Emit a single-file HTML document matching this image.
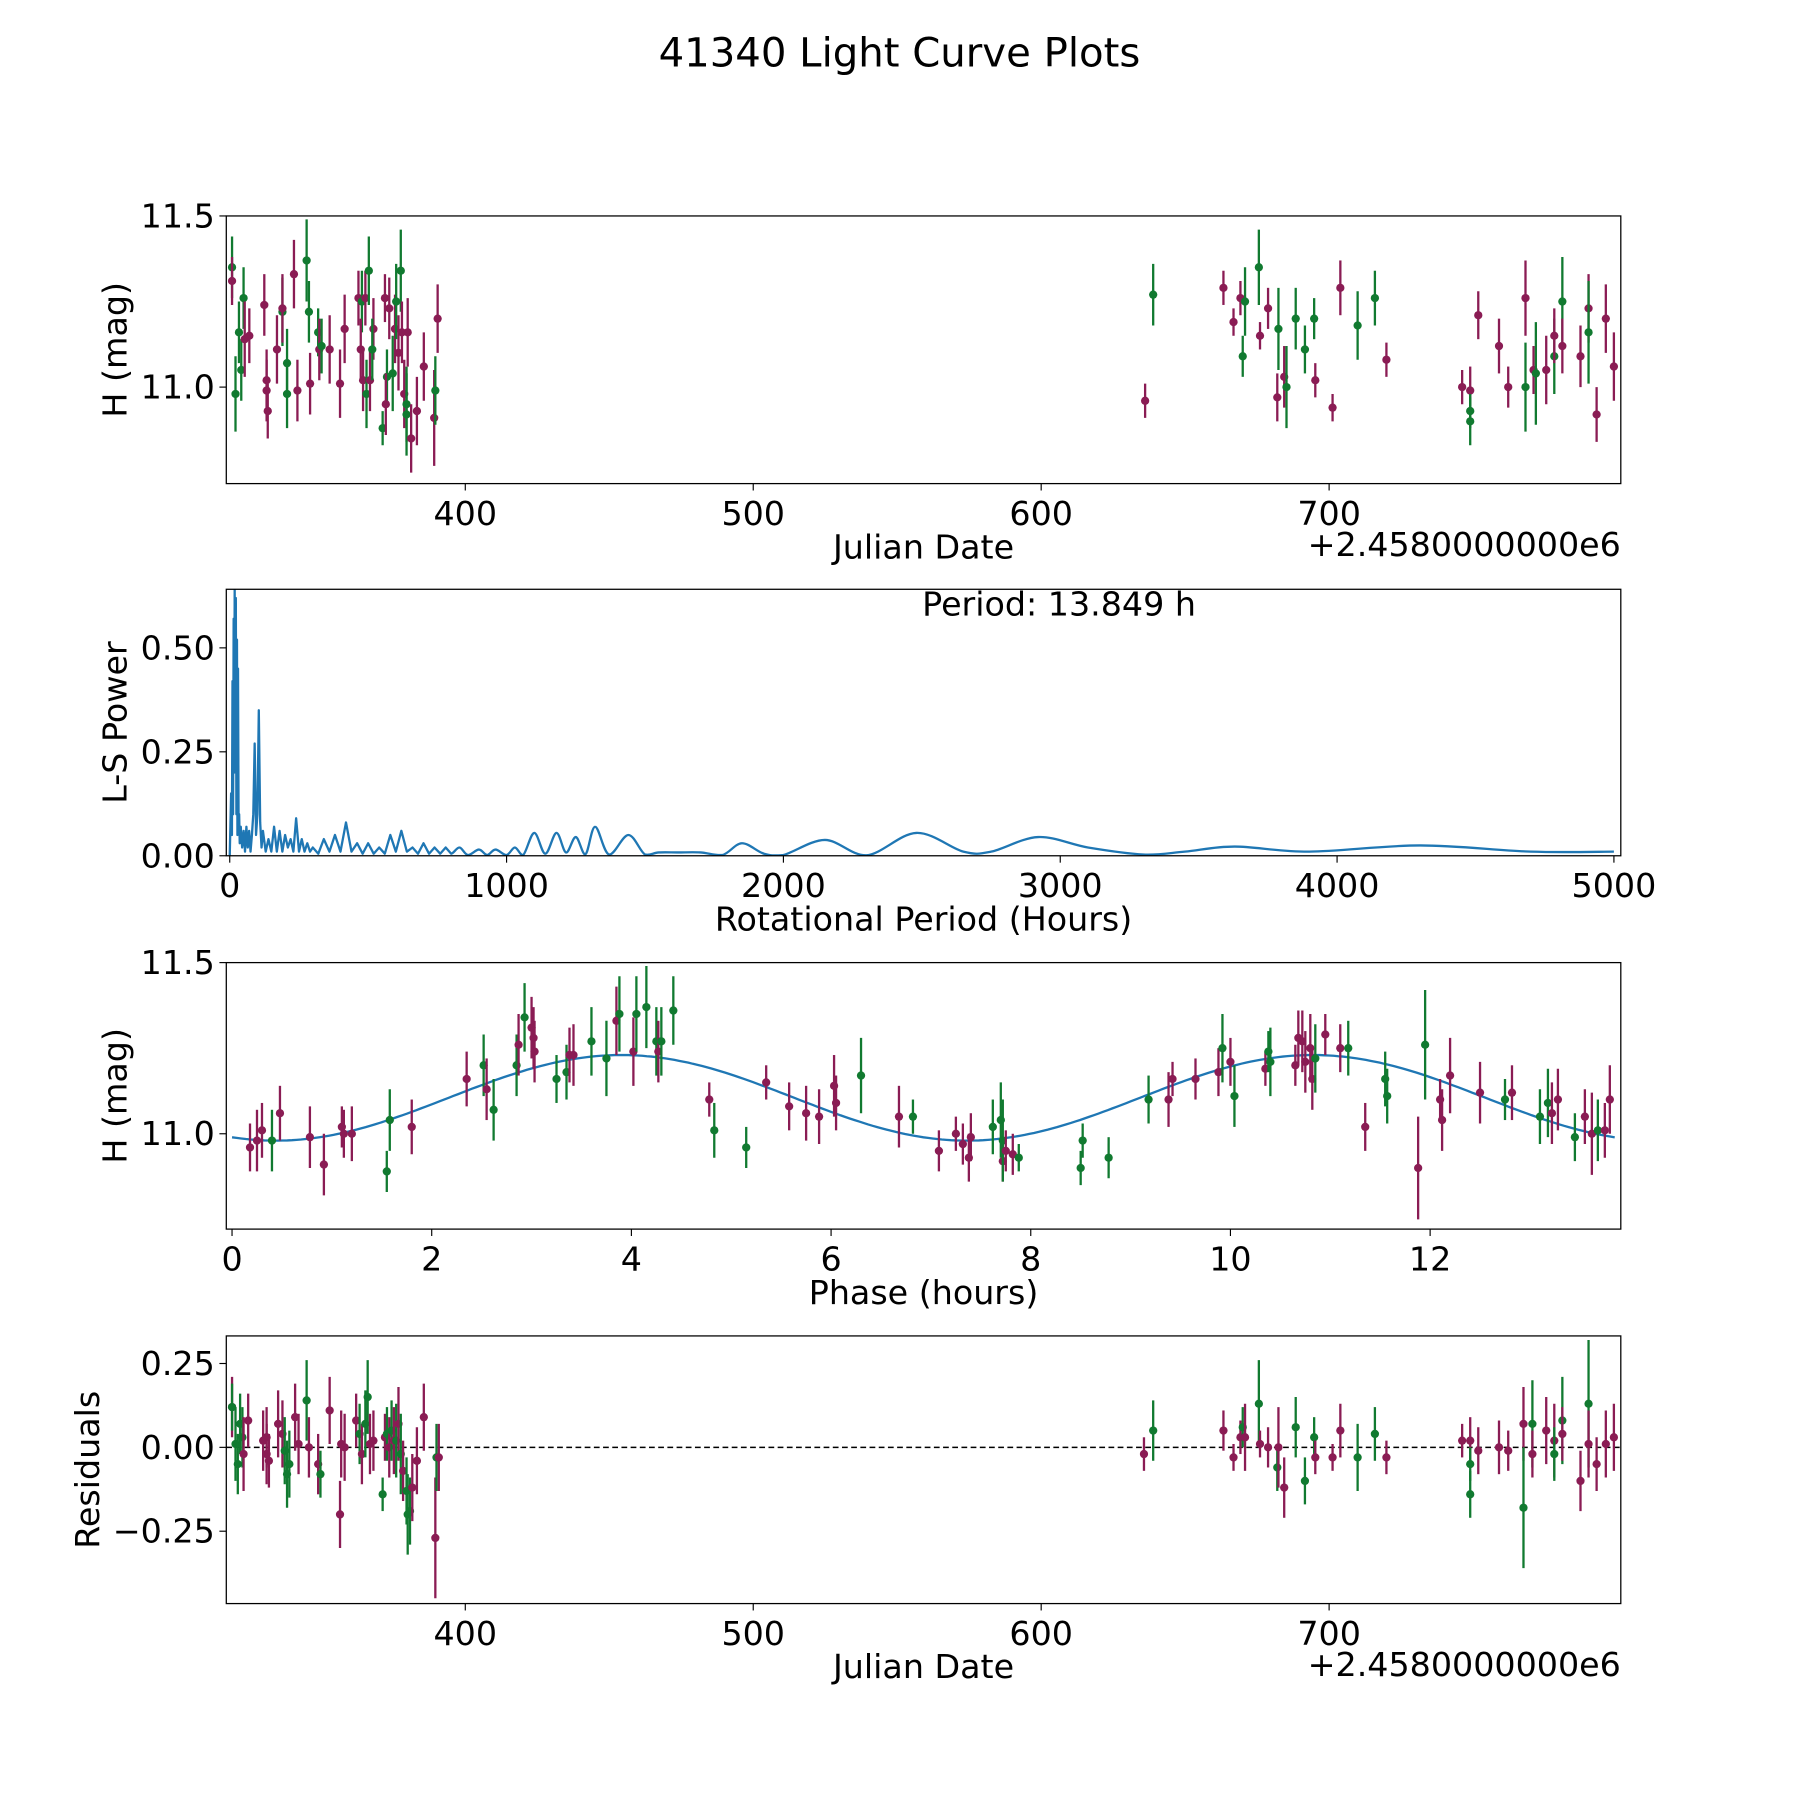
<!DOCTYPE html>
<html><head><meta charset="utf-8"><style>
html,body{margin:0;padding:0;background:#fff;width:1800px;height:1800px;overflow:hidden}
svg{display:block}
text{font-family:"DejaVu Sans","Liberation Sans",sans-serif;fill:#000}
</style></head><body>
<svg id="fig" width="1800" height="1800" viewBox="0 0 1567 1567" xmlns="http://www.w3.org/2000/svg">
<text x="783" y="58" font-size="35" text-anchor="middle">41340 Light Curve Plots</text>
</svg>
<script>
// ---- Panel 1: light curve ----
const lcDates=[319.0,319.0,320.2,321.4,322.2,323.0,323.4,325.0,330.2,331.0,331.0,331.4,334.6,336.5,336.5,338.1,338.1,340.5,341.7,344.9,345.7,346.1,348.9,349.3,350.1,352.9,356.5,358.1,362.9,364.1,363.7,364.5,365.7,365.3,366.5,366.9,368.1,367.7,371.3,372.1,372.8,372.4,373.6,374.8,375.6,376.0,376.8,377.6,378.0,378.8,379.6,379.6,380.0,381.2,383.2,385.6,389.2,389.6,390.4,
636.1,638.9,663.3,666.8,669.2,670.0,670.8,675.6,676.0,678.8,682.0,682.4,684.4,685.2,688.4,691.6,694.8,695.2,701.2,703.9,709.9,715.9,719.9,746.2,749.0,749.0,749.0,751.8,759.0,762.2,768.2,768.2,771.0,771.8,775.4,778.2,778.2,781.0,781.0,787.3,790.1,790.1,792.9,796.1,798.9];
const lcMags=[11.35,11.31,10.98,11.16,11.05,11.26,11.14,11.15,11.24,11.02,10.99,10.93,11.11,11.22,11.23,11.07,10.98,11.33,10.99,11.37,11.22,11.01,11.16,11.11,11.12,11.11,11.01,11.17,11.26,11.25,11.11,11.02,10.98,11.26,11.34,11.02,11.17,11.11,10.88,11.26,11.03,10.95,11.23,11.04,11.17,11.25,11.10,11.34,11.16,10.98,10.95,10.92,11.16,10.85,10.93,11.06,10.91,10.99,11.20,
10.96,11.27,11.29,11.19,11.26,11.09,11.25,11.35,11.15,11.23,10.97,11.17,11.03,11.00,11.20,11.11,11.20,11.02,10.94,11.29,11.18,11.26,11.08,11.00,10.99,10.93,10.90,11.21,11.12,11.00,11.26,11.00,11.05,11.04,11.05,11.09,11.15,11.25,11.12,11.09,11.23,11.16,10.92,11.20,11.06];
const lcErrs=[.09,.07,.11,.09,.09,.09,.11,.08,.09,.09,.09,.08,.10,.10,.10,.10,.10,.10,.09,.12,.09,.09,.07,.09,.08,.10,.10,.10,.08,.09,.09,.09,.10,.08,.10,.09,.09,.09,.05,.07,.08,.09,.09,.11,.10,.11,.11,.12,.09,.10,.11,.12,.10,.10,.10,.10,.14,.10,.10,
.05,.09,.05,.04,.05,.06,.10,.11,.04,.06,.07,.12,.09,.12,.09,.07,.06,.05,.04,.08,.10,.08,.05,.05,.07,.05,.07,.07,.08,.06,.11,.13,.07,.15,.10,.11,.08,.13,.08,.09,.10,.15,.08,.10,.10];
const lcBands=['g','m','g','g','g','g','m','m','m','m','m','m','m','g','m','g','g','m','m','g','g','m','g','m','g','m','m','m','m','g','m','m','g','m','g','m','m','g','g','m','g','m','m','g','m','g','m','g','m','m','g','g','m','m','m','m','m','g','m',
'm','g','m','m','m','g','g','g','m','m','m','g','m','g','g','g','g','m','m','m','g','g','m','m','m','g','g','m','m','m','m','g','m','g','m','g','m','g','m','m','m','g','m','m','m'];
const dateTicks=[400,500,600,700];
// ---- Panel 2: periodogram ----
const periods=[0,5,8,10,12,14,16,18,20,22,24,26,28,30,32,34,36,40,45,50,55,60,65,70,75,80,85,90,95,100,105,110,115,120,130,140,150,160,170,180,190,200,210,220,230,240,250,260,270,280,290,300,320,340,360,380,400,420,440,460,480,500,520,540,560,580,600,620,640,660,680,700,720,740,760,780,800,830,860,900,930,960,1000,1030,1060,1100,1140,1180,1215,1250,1285,1320,1370,1440,1500,1550,1620,1700,1780,1850,1930,2000,2150,2300,2480,2650,2750,2920,3100,3300,3450,3630,3900,4300,4700,5000];
const powers=[0,0.15,0.05,0.42,0.10,0.57,0.20,0.64,0.30,0.62,0.10,0.52,0.05,0.45,0.08,0.10,0.03,0.07,0.02,0.06,0.01,0.07,0.02,0.06,0.01,0.05,0.10,0.27,0.05,0.10,0.35,0.08,0.02,0.06,0.01,0.04,0.01,0.07,0.01,0.06,0.01,0.05,0.02,0.04,0.01,0.09,0.01,0.04,0.01,0.03,0.01,0.02,0.005,0.04,0.01,0.05,0.01,0.08,0.01,0.03,0.005,0.03,0.005,0.02,0.005,0.05,0.01,0.06,0.01,0.02,0.005,0.03,0.005,0.02,0.005,0.02,0.005,0.02,0.002,0.015,0.002,0.015,0.002,0.02,0.002,0.055,0.005,0.055,0.008,0.045,0.004,0.07,0.003,0.05,0.003,0.008,0.008,0.008,0.002,0.03,0.005,0.002,0.038,0.001,0.055,0.01,0.01,0.045,0.02,0.003,0.01,0.022,0.01,0.025,0.01,0.01];
const periodTicks=[0,1000,2000,3000,4000,5000];
const powerTicks=[0,0.25,0.5];
// ---- Panel 3: phased ----
const phases=[0.18,0.25,0.30,0.40,0.48,0.78,0.92,1.10,1.12,1.20,1.55,1.58,1.80,2.35,2.52,2.55,2.62,2.85,2.87,2.93,3.00,3.02,3.03,3.25,3.35,3.38,3.42,3.60,3.75,3.85,3.88,4.02,4.05,4.15,4.25,4.27,4.30,4.42,4.78,4.83,5.15,5.35,5.58,5.75,5.88,6.03,6.05,6.30,6.68,6.82,7.08,7.25,7.32,7.38,7.40,7.62,7.70,7.72,7.72,7.75,7.82,7.88,8.50,8.52,8.78,9.18,9.38,9.42,9.65,9.88,9.92,10.00,10.04,10.35,10.38,10.40,10.65,10.68,10.72,10.75,10.80,10.82,10.85,10.95,11.10,11.18,11.35,11.55,11.57,11.88,11.95,12.10,12.12,12.20,12.50,12.75,12.82,13.10,13.18,13.22,13.28,13.45,13.55,13.62,13.68,13.75,13.80];
const phaseMags=[10.96,10.98,11.01,10.98,11.06,10.99,10.91,11.02,11.00,11.00,10.89,11.04,11.02,11.16,11.20,11.13,11.07,11.20,11.26,11.34,11.31,11.28,11.24,11.16,11.18,11.23,11.23,11.27,11.22,11.33,11.35,11.24,11.35,11.37,11.27,11.24,11.27,11.36,11.10,11.01,10.96,11.15,11.08,11.06,11.05,11.14,11.09,11.17,11.05,11.05,10.95,11.00,10.97,10.93,10.99,11.02,11.04,10.92,10.98,10.95,10.94,10.93,10.90,10.98,10.93,11.10,11.10,11.16,11.16,11.18,11.25,11.21,11.11,11.19,11.24,11.21,11.20,11.28,11.27,11.21,11.25,11.16,11.22,11.29,11.25,11.25,11.02,11.16,11.11,10.90,11.26,11.10,11.04,11.17,11.12,11.10,11.12,11.05,11.09,11.06,11.10,10.99,11.05,11.00,11.01,11.01,11.10];
const phaseErrs=[.07,.09,.08,.09,.08,.09,.09,.06,.07,.08,.06,.09,.08,.08,.09,.09,.09,.09,.09,.10,.09,.09,.09,.07,.08,.08,.09,.10,.11,.10,.11,.10,.11,.12,.10,.09,.10,.10,.05,.08,.06,.05,.07,.08,.08,.09,.08,.11,.09,.05,.06,.05,.06,.07,.07,.08,.11,.06,.12,.06,.06,.04,.05,.05,.06,.07,.08,.05,.06,.07,.10,.07,.09,.05,.06,.10,.06,.08,.09,.09,.10,.09,.10,.06,.07,.08,.07,.08,.08,.15,.16,.06,.09,.11,.09,.06,.08,.08,.10,.09,.09,.07,.08,.12,.09,.08,.10];
const phaseBands=['m','m','m','g','m','m','m','m','m','m','g','g','m','m','g','m','g','g','m','g','m','m','m','g','g','m','m','g','g','m','g','m','g','g','g','m','g','g','m','g','g','m','m','m','m','m','m','g','m','g','m','m','m','m','m','g','g','m','g','m','m','g','g','g','g','g','m','m','m','m','g','m','g','m','g','g','m','m','m','m','m','m','g','m','m','g','m','g','g','m','g','m','m','m','m','g','m','g','g','m','m','g','m','m','g','m','m'];
const phaseTicks=[0,2,4,6,8,10,12];
const magTicks=[11.0,11.5];
const fitParams={mean:11.105,amp:0.125,peakPhase:3.9,halfPeriod:6.9245};
// ---- Panel 4: residuals ----
const resDates=[319.0,319.0,320.2,321.0,321.8,322.6,323.0,324.6,329.8,331.0,331.0,331.8,335.0,336.5,337.3,338.1,338.9,340.9,342.1,344.9,345.7,348.9,349.7,352.9,356.5,356.9,358.1,362.1,363.3,364.1,365.3,366.1,366.9,368.1,371.3,372.1,372.8,373.6,374.4,375.2,376.0,376.8,377.6,378.4,379.6,380.0,380.8,381.6,383.2,385.6,389.6,390.0,390.8,
635.7,638.9,663.3,666.8,669.2,670.0,670.8,675.6,676.0,678.8,682.0,682.4,684.4,688.4,691.6,694.8,695.2,701.2,703.9,709.9,715.9,719.9,746.2,749.0,749.0,749.0,751.8,759.0,762.2,767.5,767.5,770.6,770.6,775.4,778.2,778.2,781.0,781.0,787.3,790.1,790.1,792.9,796.1,798.9];
const resVals=[.12,.12,.01,-.05,.07,.03,-.02,.08,.02,.03,-.02,-.04,.07,.04,-.01,-.08,-.05,.09,.01,.14,0,-.05,-.08,.11,-.20,.01,0,.08,.04,-.02,.07,.15,.01,.02,-.14,.03,.04,0,.05,.02,.02,.07,-.02,-.07,-.13,-.20,-.19,-.12,-.04,.09,-.27,-.03,-.03,
-.02,.05,.05,-.03,.03,.06,.03,.13,.01,0,-.06,0,-.12,.06,-.10,.03,-.03,-.03,.05,-.03,.04,-.03,.02,.02,-.05,-.14,-.01,0,-.01,.07,-.18,.07,-.02,.05,.02,-.02,.08,.04,-.10,.13,.01,-.05,.01,.03];
const resErrs=[.09,.07,.11,.09,.09,.09,.11,.08,.09,.09,.09,.08,.10,.10,.10,.10,.10,.10,.09,.12,.09,.09,.07,.10,.10,.10,.10,.08,.09,.09,.10,.11,.09,.09,.05,.07,.08,.09,.09,.10,.11,.11,.12,.09,.10,.12,.10,.10,.10,.10,.18,.10,.10,
.05,.09,.06,.04,.05,.06,.10,.13,.04,.06,.07,.12,.09,.09,.07,.06,.05,.04,.08,.10,.08,.05,.05,.07,.05,.07,.07,.08,.06,.11,.18,.13,.07,.10,.11,.08,.13,.08,.09,.19,.10,.08,.10,.10];
const resBands=['m','g','g','g','g','g','m','m','m','m','m','m','m','m','g','g','g','m','m','g','m','m','g','m','m','m','m','m','g','m','g','g','m','m','g','m','g','m','g','m','g','m','g','m','g','g','g','m','m','m','m','g','m',
'm','g','m','m','m','g','m','g','m','m','g','m','m','g','g','g','m','m','m','g','g','m','m','m','g','g','m','m','m','m','g','g','m','m','m','g','g','m','m','g','m','m','m','m'];
const resTicks=[-0.25,0,0.25];

const NS="http://www.w3.org/2000/svg";
const fig=document.getElementById('fig');
const MAG="#8a1c54", GRN="#117a30", BLUE="#1f77b4";
const FS=29;
function mk(tag,attrs,parent){const e=document.createElementNS(NS,tag);for(const k in attrs)e.setAttribute(k,attrs[k]);(parent||fig).appendChild(e);return e;}
function lin(d0,d1,r0,r1){return v=>r0+(v-d0)*(r1-r0)/(d1-d0);}
const L=197,R=1411;
function frame(name,top,bot){
  const g=mk('g',{});
  
  
  const c=mk('clipPath',{id:'clip-'+name},g);
  mk('rect',{x:L,y:top,width:R-L,height:bot-top},c);
  const plot=mk('g',{'clip-path':'url(#clip-'+name+')'},g);
  return {g,plot};
}
function axes(g,top,bot,xs,xt,xfmt,ys,yt,yfmt,xlabel,ylabel,ylx){
  const r=mk('rect',{x:L,y:top,width:R-L,height:bot-top,fill:'none',stroke:'#000','stroke-width':1.1},g);
  
  
  xt.forEach(v=>{const x=xs(v);mk('line',{x1:x,x2:x,y1:bot,y2:bot+6,stroke:'#000','stroke-width':1},g);
    const t=mk('text',{x:x,y:bot+36,'font-size':FS,'text-anchor':'middle'},g);t.textContent=xfmt(v);
    
    });
  yt.forEach(v=>{const y=ys(v);mk('line',{x1:L-6,x2:L,y1:y,y2:y,stroke:'#000','stroke-width':1},g);
    const t=mk('text',{x:L-10,y:y+10,'font-size':FS,'text-anchor':'end'},g);t.textContent=yfmt(v);
    
    });
  const xl=mk('text',{x:(L+R)/2,y:bot+65,'font-size':FS,'text-anchor':'middle'},g);xl.textContent=xlabel;
  
  
  const cy=(top+bot)/2;
  const yl=mk('text',{x:ylx,y:cy,'font-size':FS,'text-anchor':'middle',transform:'rotate(-90 '+ylx+' '+cy+')'},g);yl.textContent=ylabel;
  
  
}
function errpts(plot,xs,ys,X,Y,E,B,nm){
  for(let i=0;i<X.length;i++){
    const col=B[i]==='g'?GRN:MAG;const x=xs(X[i]);
    const ln=mk('line',{x1:x,x2:x,y1:ys(Y[i]-E[i]),y2:ys(Y[i]+E[i]),stroke:col,'stroke-width':2},plot);
    
    
    const c=mk('circle',{cx:x,cy:ys(Y[i]),r:3.6,fill:col},plot);
    
    
  }
}
const xDate=lin(317,801.3,L,R);
const offsetLabel=(bot)=>{const t=mk('text',{x:R,y:bot+63,'font-size':FS,'text-anchor':'end'});t.textContent='+2.4580000000e6';
  
  };
// Panel 1
(function(){const top=188,bot=421;const f=frame('light-curve-panel',top,bot);
  const ys=lin(11.0,11.5,337,188);
  errpts(f.plot,xDate,ys,lcDates,lcMags,lcErrs,lcBands,'light-curve');
  axes(f.g,top,bot,xDate,dateTicks,v=>String(v),ys,magTicks,v=>v.toFixed(1),'Julian Date','H (mag)',110);
  offsetLabel(bot);})();
// Panel 2
(function(){const top=513,bot=745;const f=frame('periodogram-panel',top,bot);
  const xs=lin(0,5000,200,1405),ys=lin(0,0.5,745,564);
  const P=periods.map((p,i)=>[xs(p),ys(powers[i])]);
  let d='M'+P[0][0].toFixed(1)+','+P[0][1].toFixed(1);
  for(let i=1;i<P.length;i++){
    if(periods[i]<=800){d+=' L'+P[i][0].toFixed(1)+','+P[i][1].toFixed(1);}
    else{const p0=P[i-2]||P[i-1],p1=P[i-1],p2=P[i],p3=P[i+1]||P[i];
      const c1x=p1[0]+(p2[0]-p0[0])/6,c1y=p1[1]+(p2[1]-p0[1])/6,c2x=p2[0]-(p3[0]-p1[0])/6,c2y=p2[1]-(p3[1]-p1[1])/6;
      d+=' C'+c1x.toFixed(1)+','+Math.min(c1y,745).toFixed(1)+' '+c2x.toFixed(1)+','+Math.min(c2y,745).toFixed(1)+' '+p2[0].toFixed(1)+','+p2[1].toFixed(1);}
  }
  const pl=mk('path',{d:d,fill:'none',stroke:BLUE,'stroke-width':2,'stroke-linejoin':'round'},f.plot);
  
  
  axes(f.g,top,bot,xs,periodTicks,v=>String(v),ys,powerTicks,v=>v.toFixed(2),'Rotational Period (Hours)','L-S Power',110);
  const t=mk('text',{x:922,y:536,'font-size':FS,'text-anchor':'middle'},f.g);t.textContent='Period: 13.849 h';
  
  })();
// Panel 3
(function(){const top=838,bot=1070;const f=frame('phased-panel',top,bot);
  const xs=lin(0,12,202,1245),ys=lin(11.0,11.5,987,838);
  let pts=[];for(let i=0;i<=300;i++){const p=i*13.849/300;
    const m=fitParams.mean+fitParams.amp*Math.cos(2*Math.PI*(p-fitParams.peakPhase)/fitParams.halfPeriod);
    pts.push(xs(p).toFixed(1)+','+ys(m).toFixed(1));}
  const pl=mk('polyline',{points:pts.join(' '),fill:'none',stroke:BLUE,'stroke-width':2},f.plot);
  
  
  errpts(f.plot,xs,ys,phases,phaseMags,phaseErrs,phaseBands,'phased');
  axes(f.g,top,bot,xs,phaseTicks,v=>String(v),ys,magTicks,v=>v.toFixed(1),'Phase (hours)','H (mag)',110);})();
// Panel 4
(function(){const top=1163,bot=1396;const f=frame('residuals-panel',top,bot);
  const ys=lin(0,0.25,1260,1187);
  const z=mk('line',{x1:L,x2:R,y1:ys(0),y2:ys(0),stroke:'#000','stroke-width':1.3,'stroke-dasharray':'5,3'},f.plot);
  
  
  errpts(f.plot,xDate,ys,resDates,resVals,resErrs,resBands,'residual');
  axes(f.g,top,bot,xDate,dateTicks,v=>String(v),ys,resTicks,v=>(v<0?'\u2212':'')+Math.abs(v).toFixed(2),'Julian Date','Residuals',86);
  offsetLabel(bot);})();
</script>
</body></html>
